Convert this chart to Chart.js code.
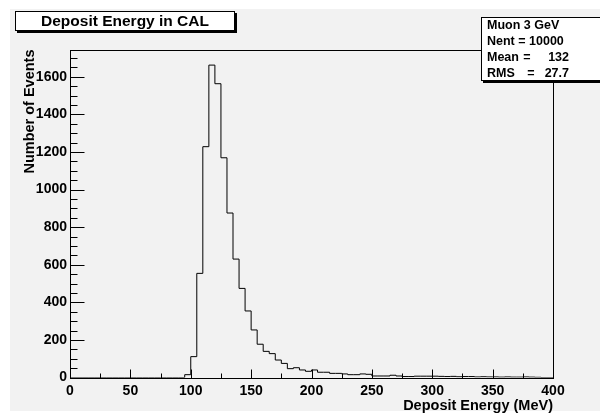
<!DOCTYPE html>
<html>
<head>
<meta charset="utf-8">
<script src="https://cdn.jsdelivr.net/npm/chart.js@4.4.1/dist/chart.umd.min.js"></script>
<style>
  html, body { margin: 0; padding: 0; background: #fff; }
  #wrap { width: 600px; height: 413px; }
</style>
</head>
<body>
<div id="wrap"><canvas id="myChart" width="600" height="413"></canvas></div>
<script>
// histogram: 80 bins of 5 MeV from 0 to 400
const xMin = 0;
const xMax = 400;
const binWidth = 5;
const counts = [
  0, 0, 0, 0, 0, 0, 0, 0, 0, 0,
  0, 0, 0, 0, 0, 0, 0, 0, 0, 15,
  111, 554, 1228, 1662, 1563, 1169, 875, 630, 474, 354,
  253, 177, 139, 127, 93, 75, 47, 52, 40, 33,
  40, 28, 28, 22, 22, 19, 15, 15, 19, 17,
  8, 8, 8, 12, 8, 5, 5, 7, 7, 7,
  7, 6, 5, 6, 4, 5, 5, 3, 4, 3,
  3, 2, 3, 2, 2, 3, 2, 1, 0, 0
];
const yMax = 1745;

const xTickLabels = [0, 50, 100, 150, 200, 250, 300, 350, 400];
const yTickLabels = [0, 200, 400, 600, 800, 1000, 1200, 1400, 1600];

const histTitle = "Deposit Energy in CAL";
const xTitle = "Deposit Energy (MeV)";
const yTitle = "Number of Events";
const statsName = "Muon 3 GeV";
const statsEntries = "Nent = 10000";
const statsRows = [["Mean", "132"], ["RMS", "27.7"]];

const FONT = "'Liberation Sans', Arial, Helvetica, sans-serif";

// lower bin edges + closing point at the upper edge
const points = counts.map((c, i) => ({ x: xMin + i * binWidth, y: c }));
points.push({ x: xMax, y: counts[counts.length - 1] });

const rootDecor = {
  id: 'rootDecor',
  beforeDraw(chart) {
    const ctx = chart.ctx;
    ctx.save();
    ctx.fillStyle = '#f2f2f2';
    ctx.fillRect(10, 9, 590, 402);
    ctx.restore();
  },
  afterDatasetsDraw(chart) {
    const ctx = chart.ctx;
    const a = chart.chartArea;
    const xs = chart.scales.x, ys = chart.scales.y;
    ctx.save();
    ctx.strokeStyle = '#000';
    ctx.lineWidth = 1;
    // frame
    ctx.strokeRect(Math.round(a.left) + 0.5, Math.round(a.top) + 0.5,
      Math.round(a.right - a.left), Math.round(a.bottom - a.top));
    // ticks inside the frame
    ctx.beginPath();
    const bottom = Math.round(a.bottom) + 0.5;
    for (let v = xMin; v <= xMax; v += 25) {
      const px = Math.round(xs.getPixelForValue(v)) + 0.5;
      const len = (v % 50 === 0) ? 9 : 5;
      ctx.moveTo(px, bottom);
      ctx.lineTo(px, bottom - len);
    }
    const left = Math.round(a.left) + 0.5;
    for (let v = 0; v <= yMax; v += 50) {
      const py = Math.round(ys.getPixelForValue(v)) + 0.5;
      const len = (v % 200 === 0) ? 14 : 7;
      ctx.moveTo(left, py);
      ctx.lineTo(left + len, py);
    }
    ctx.stroke();
    ctx.restore();
  },
  afterDraw(chart) {
    const ctx = chart.ctx;
    ctx.save();
    // title pave
    ctx.fillStyle = '#000';
    ctx.fillRect(17, 13, 220, 20);
    ctx.fillStyle = '#fff';
    ctx.fillRect(15, 11, 220, 20);
    ctx.strokeStyle = '#000';
    ctx.lineWidth = 1;
    ctx.strokeRect(15.5, 11.5, 219, 19);
    ctx.fillStyle = '#000';
    ctx.font = 'bold 15.5px ' + FONT;
    ctx.textAlign = 'center';
    ctx.textBaseline = 'middle';
    ctx.fillText(histTitle, 125, 22);

    // stats box
    ctx.fillStyle = '#000';
    ctx.fillRect(483, 19, 130, 64);
    ctx.fillStyle = '#fff';
    ctx.fillRect(481, 17, 130, 64);
    ctx.strokeRect(481.5, 17.5, 130, 63);
    ctx.fillStyle = '#000';
    ctx.font = 'bold 12.5px ' + FONT;
    ctx.textAlign = 'left';
    ctx.fillText(statsName, 487, 26);
    ctx.fillText(statsEntries, 487, 42);
    statsRows.forEach((r, i) => {
      const y = 58 + i * 16;
      ctx.textAlign = 'left';
      ctx.fillText(r[0], 487, y);
      ctx.textAlign = 'center';
      ctx.fillText('=', i === 0 ? 527 : 531, y);
      ctx.textAlign = 'right';
      ctx.fillText(r[1], 569, y);
    });
    ctx.restore();
  }
};

const ctx = document.getElementById('myChart');
new Chart(ctx, {
  type: 'line',
  data: {
    datasets: [{
      data: points,
      stepped: true,
      borderColor: '#000',
      borderWidth: 1,
      pointRadius: 0,
      fill: false
    }]
  },
  options: {
    responsive: false,
    animation: false,
    devicePixelRatio: 1,
    layout: { padding: { top: 49.5, right: 47, left: 0, bottom: 0 } },
    plugins: {
      legend: { display: false },
      tooltip: { enabled: false },
      title: { display: false }
    },
    scales: {
      x: {
        type: 'linear',
        min: xMin,
        max: xMax,
        afterFit(s) { s.height = 35.5; },
        afterBuildTicks(s) { s.ticks = xTickLabels.map(v => ({ value: v })); },
        grid: { display: false, drawTicks: false },
        border: { display: false },
        ticks: {
          padding: 5,
          color: '#000',
          maxRotation: 0,
          autoSkip: false,
          callback: v => String(v),
          font: { family: FONT, size: 14, weight: 'bold' }
        },
        title: {
          display: true,
          text: xTitle,
          align: 'end',
          color: '#000',
          padding: 0,
          font: { family: FONT, size: 14.5, weight: 'bold', lineHeight: 1 }
        }
      },
      y: {
        type: 'linear',
        min: 0,
        max: yMax,
        afterFit(s) { s.width = 70; },
        afterBuildTicks(s) { s.ticks = yTickLabels.map(v => ({ value: v })); },
        grid: { display: false, drawTicks: false },
        border: { display: false },
        ticks: {
          padding: 3,
          color: '#000',
          callback: v => String(v),
          font: { family: FONT, size: 14, weight: 'bold' }
        },
        title: {
          display: true,
          text: yTitle,
          align: 'end',
          color: '#000',
          padding: { top: 22.75, bottom: 0 },
          font: { family: FONT, size: 14.5, weight: 'bold', lineHeight: 1 }
        }
      }
    }
  },
  plugins: [rootDecor]
});
</script>
</body>
</html>
